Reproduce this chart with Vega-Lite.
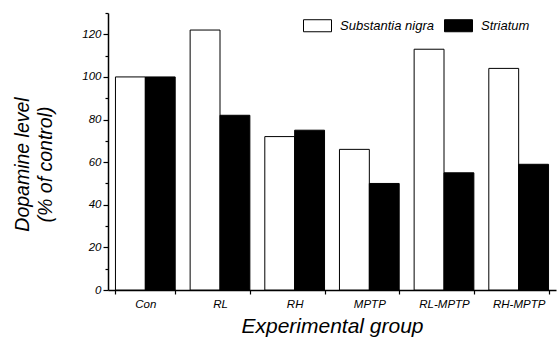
{
  "$schema": "https://vega.github.io/schema/vega-lite/v6.json",
  "width": 448,
  "height": 277,
  "autosize": "none",
  "padding": {"left": 108, "top": 13, "right": 4, "bottom": 48},
  "background": "white",
  "config": {
    "font": "Liberation Sans",
    "view": {"stroke": null},
    "axis": {"grid": false, "domainColor": "black", "tickColor": "black", "labelColor": "black", "titleColor": "black", "labelFontStyle": "italic", "titleFontStyle": "italic", "titleFontWeight": "normal", "domainWidth": 1.5, "tickWidth": 1.2}
  },
  "data": {
    "values": [
      {"group": "Con", "tissue": "Substantia nigra", "level": 100},
      {"group": "Con", "tissue": "Striatum", "level": 100},
      {"group": "RL", "tissue": "Substantia nigra", "level": 122},
      {"group": "RL", "tissue": "Striatum", "level": 82},
      {"group": "RH", "tissue": "Substantia nigra", "level": 72},
      {"group": "RH", "tissue": "Striatum", "level": 75},
      {"group": "MPTP", "tissue": "Substantia nigra", "level": 66},
      {"group": "MPTP", "tissue": "Striatum", "level": 50},
      {"group": "RL-MPTP", "tissue": "Substantia nigra", "level": 113},
      {"group": "RL-MPTP", "tissue": "Striatum", "level": 55},
      {"group": "RH-MPTP", "tissue": "Substantia nigra", "level": 104},
      {"group": "RH-MPTP", "tissue": "Striatum", "level": 59}
    ]
  },
  "mark": {"type": "bar", "stroke": "black", "strokeWidth": 1},
  "encoding": {
    "x": {
      "field": "group", "type": "nominal", "sort": null,
      "scale": {"paddingInner": 0.2, "paddingOuter": 0.1},
      "axis": {
        "title": "Experimental group", "titleFontSize": 21, "titlePadding": 6,
        "labelAngle": 0, "labelFontSize": 11.5, "labelPadding": 4,
        "tickBand": "extent", "tickSize": 4
      }
    },
    "xOffset": {"field": "tissue", "type": "nominal", "sort": ["Substantia nigra", "Striatum"], "scale": {"paddingInner": 0, "paddingOuter": 0}},
    "y": {
      "field": "level", "type": "quantitative",
      "scale": {"domain": [0, 130], "nice": false},
      "axis": {
        "title": ["Dopamine level", "(% of control)"], "titleFontSize": 19.5, "titleLineHeight": 23,
        "titleY": 151, "titleX": -76,
        "values": [0, 10, 20, 30, 40, 50, 60, 70, 80, 90, 100, 110, 120, 130],
        "labelExpr": "datum.value % 20 === 0 && datum.value <= 120 ? datum.label : ''",
        "labelFontSize": 11.5, "labelPadding": 2,
        "tickSize": {"condition": {"test": "datum.value % 20 === 0", "value": 5}, "value": 3}
      }
    },
    "color": {
      "field": "tissue", "type": "nominal",
      "sort": ["Substantia nigra", "Striatum"],
      "scale": {"domain": ["Substantia nigra", "Striatum"], "range": ["white", "black"]},
      "legend": {
        "title": null, "orient": "none", "direction": "horizontal",
        "legendX": 195, "legendY": -2, "padding": 0,
        "symbolType": "M-1,-0.43H1V0.43H-1Z", "symbolSize": 784,
        "symbolStrokeColor": "black", "symbolStrokeWidth": 1,
        "labelFontSize": 13, "labelFontStyle": "italic", "labelColor": "black",
        "labelOffset": 8, "columnPadding": 8
      }
    }
  }
}
